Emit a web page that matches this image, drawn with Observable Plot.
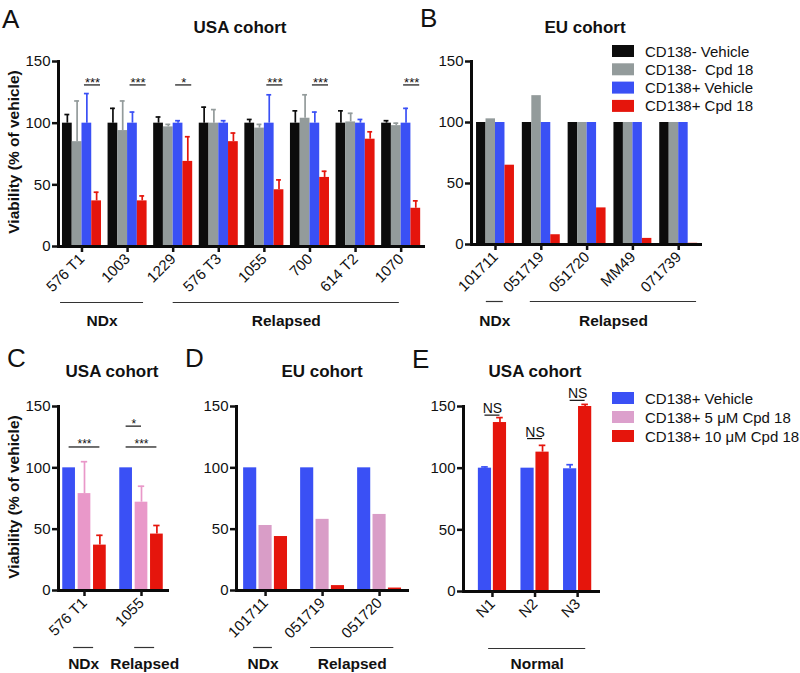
<!DOCTYPE html>
<html><head><meta charset="utf-8">
<script src="https://cdn.jsdelivr.net/npm/d3@7"></script>
<script src="https://cdn.jsdelivr.net/npm/@observablehq/plot@0.6"></script>
<style>
body{margin:0;background:#fff;}
#fig{position:relative;width:800px;height:673px;overflow:hidden;background:#fff;font-family:"Liberation Sans",Arial,Helvetica,sans-serif;}
#fig > svg, #fig > figure{position:absolute;margin:0;}
</style></head><body><div id="fig"></div>
<script>
// ---------- Panel A (USA cohort) ----------
const groupsA = ["576 T1","1003","1229","576 T3","1055","700","614 T2","1070"];
const seriesA = ["CD138- Vehicle","CD138-  Cpd 18","CD138+ Vehicle","CD138+ Cpd 18"];
const aNegVeh    = [100,100,100,100,100,100,100,100];
const aNegVehErr = [7,12,5,13,3,10,10,2];
const aNegCpd    = [85,94,97,100,96,104,101,98];
const aNegCpdErr = [33,24,2,11,3,19,7,2];
const aPosVeh    = [100,100,100,100,100,100,100,100];
const aPosVehErr = [24,9,2,2,23,9,3,12];
const aPosCpd    = [37,37,69,85,46,56,87,31];
const aPosCpdErr = [7,4,20,7,8,5,6,6];
const sigGroupsA = [0,1,2,4,5,7];
const sigLabelsA = ["***","***","*","***","***","***"];
const sigLevelA  = 131;
const bracketLabelsA = ["NDx","Relapsed"];
const bracketStartA  = [-0.47, 2.0];
const bracketEndA    = [1.35, 6.96];

// ---------- Panel B (EU cohort) ----------
const groupsB = ["101711","051719","051720","MM49","071739"];
const bNegVeh = [100,100,100,100,100];
const bNegCpd = [103,122,100,100,100];
const bPosVeh = [100,100,100,100,100];
const bPosCpd = [65,8,30,5,1];
const bracketLabelsB = ["NDx","Relapsed"];
const bracketStartB  = [-0.2, 0.76];
const bracketEndB    = [0.17, 4.39];

// ---------- Panel C (USA cohort, dose) ----------
const groupsC = ["576 T1","1055"];
const seriesDose = ["CD138+ Vehicle","CD138+ 5 \u03bcM Cpd 18","CD138+ 10 \u03bcM Cpd 18"];
const cVeh      = [100,100];
const cCpd5     = [79,72];
const cCpd5Err  = [26,13];
const cCpd10    = [37,46];
const cCpd10Err = [8,7];
const sigGroupsC = [0,1,1];
const sigLabelsC = ["***","*","***"];
const sigToC     = [2,1,2];
const sigLevelsC = [117,134,117];
const bracketLabelsC = ["NDx","Relapsed"];
const bracketStartC  = [-0.19, 0.88];
const bracketEndC    = [0.16, 1.23];

// ---------- Panel D (EU cohort, dose) ----------
const groupsD = ["101711","051719","051720"];
const dVeh  = [100,100,100];
const dCpd5 = [53,58,62];
const dCpd10 = [44,4,2];
const bracketLabelsD = ["NDx","Relapsed"];
const bracketStartD  = [-0.21, 0.79];
const bracketEndD    = [0.12, 2.25];

// ---------- Panel E (USA cohort, normal) ----------
const groupsE = ["N1","N2","N3"];
const seriesE = ["CD138+ Vehicle","CD138+ 10 \u03bcM Cpd 18"];
const eVeh      = [100,100,99.5];
const eVehErr   = [1,0,3.3];
const eCpd10    = [137,113,150];
const eCpd10Err = [4,5.5,1.7];
const sigLevelsE = [143,124,155];
const bracketLabelsE = ["Normal"];
const bracketStartE  = [-0.09];
const bracketEndE    = [2.19];

const BLACK = "#0c0c0c", GRAY = "#939b9b", BLUE = "#3a50f5", RED = "#e5150c";
const PINK_C = "#e998c9", PINK_D = "#d99dc7", PINK_L = "#dca0cc";
const FONT = "'Liberation Sans', Arial, Helvetica, sans-serif";

function makePanel(cfg) {
  const rows = [];
  cfg.series.forEach((s, si) => cfg.groups.forEach((g, gi) => {
    const v = cfg.values[si][gi];
    const e = cfg.errors && cfg.errors[si] ? cfg.errors[si][gi] : 0;
    rows.push({series: s, group: g, gi, xc: gi + cfg.offsets[si], value: v, err: e || 0});
  }));
  const hw = cfg.barW / 2;
  const errRows = rows.filter(d => d.err > 0);
  const brackets = cfg.bracketLabels.map((label, i) => ({label, start: cfg.bracketStart[i], end: cfg.bracketEnd[i]}));
  const marks = [
    Plot.rect(rows, {x1: d => d.xc - hw, x2: d => d.xc + hw, y1: 0, y2: "value", fill: "series"}),
    Plot.ruleX(errRows, {x: "xc", y1: "value", y2: d => d.value + d.err, stroke: "series", strokeWidth: 1.7}),
    Plot.ruleY(errRows, {y: d => d.value + d.err, x1: d => d.xc - hw / 2, x2: d => d.xc + hw / 2, stroke: "series", strokeWidth: 1.7}),
    Plot.frame({anchor: "left", stroke: "#0a0a0a", strokeWidth: 3}),
    Plot.frame({anchor: "bottom", stroke: "#0a0a0a", strokeWidth: 3}),
    Plot.axisY({ticks: [0, 50, 100, 150], tickSize: 6, tickPadding: 2, fontSize: 15, strokeWidth: 2.5, label: null}),
    Plot.axisX({ticks: cfg.groups.map((_, i) => i), tickFormat: i => cfg.groups[i], tickRotate: -45,
                tickSize: 6, tickPadding: 4, fontSize: 15, strokeWidth: 2.5, label: null}),
    Plot.ruleY(brackets, {x1: "start", x2: "end", y: 0, dy: cfg.lineDy, stroke: "#333", strokeWidth: 1.2}),
    Plot.text(brackets, {x: d => (d.start + d.end) / 2, y: 0, dy: cfg.textDy, text: "label", lineAnchor: "bottom",
                         fontWeight: "bold", fontSize: 15.5, fill: "#111"})
  ];
  if (cfg.sig) {
    const sg = cfg.sig;
    const e0 = cfg.sigExt ? cfg.sigExt[0] : 0, e1 = cfg.sigExt ? cfg.sigExt[1] : 0;
    marks.push(Plot.ruleY(sg, {y: "y", x1: d => d.g + cfg.offsets[d.from] - e0,
                               x2: d => d.g + cfg.offsets[d.to] + e1,
                               stroke: "#111", strokeWidth: 1.2}));
    marks.push(Plot.text(sg, {x: d => d.g + (cfg.offsets[d.from] - e0 + cfg.offsets[d.to] + e1) / 2,
                              y: "y", text: "label", lineAnchor: "bottom", dy: cfg.sigDy, fontSize: cfg.sigFont, fill: "#111"}));
  }
  const svg = Plot.plot({
    width: cfg.width, height: cfg.height,
    marginLeft: cfg.mLeft, marginRight: cfg.mRight, marginTop: cfg.mTop, marginBottom: cfg.mBottom,
    x: {type: "linear", domain: cfg.domainX},
    y: {domain: [0, 150]},
    color: {domain: cfg.series, range: cfg.colors},
    style: {fontFamily: FONT, fontSize: "15px", color: "#111", background: "none", overflow: "visible"},
    marks
  });
  svg.style.left = cfg.left + "px";
  svg.style.top = cfg.top + "px";
  svg.style.maxWidth = "none";
  document.getElementById("fig").appendChild(svg);
}

const wA = 0.214;
makePanel({
  groups: groupsA, series: seriesA, colors: [BLACK, GRAY, BLUE, RED],
  values: [aNegVeh, aNegCpd, aPosVeh, aPosCpd], errors: [aNegVehErr, aNegCpdErr, aPosVehErr, aPosCpdErr],
  barW: wA, offsets: [-1.5 * wA, -0.5 * wA, 0.5 * wA, 1.5 * wA],
  domainX: [-0.515, 7.49], left: 0, top: 0, width: 430, height: 340,
  mLeft: 58, mRight: 7, mTop: 61, mBottom: 94, lineDy: 56, textDy: 79,
  bracketLabels: bracketLabelsA, bracketStart: bracketStartA, bracketEnd: bracketEndA,
  sig: sigGroupsA.map((g, i) => ({g, label: sigLabelsA[i], y: sigLevelA, from: 2, to: 3})),
  sigExt: [0.053, 0.086], sigDy: 2, sigFont: 13
});

const wB = 0.207;
makePanel({
  groups: groupsB, series: seriesA, colors: [BLACK, GRAY, BLUE, RED],
  values: [bNegVeh, bNegCpd, bPosVeh, bPosCpd],
  barW: wB, offsets: [-1.5 * wB, -0.5 * wB, 0.5 * wB, 1.5 * wB],
  domainX: [-0.524, 4.476], left: 413, top: 0, width: 300, height: 340,
  mLeft: 58, mRight: 13, mTop: 61, mBottom: 96, lineDy: 57, textDy: 81,
  bracketLabels: bracketLabelsB, bracketStart: bracketStartB, bracketEnd: bracketEndB
});

makePanel({
  groups: groupsC, series: seriesDose, colors: [BLUE, PINK_C, RED],
  values: [cVeh, cCpd5, cCpd10], errors: [null, cCpd5Err, cCpd10Err],
  barW: 0.223, offsets: [-0.27, 0, 0.27],
  domainX: [-0.456, 1.456], left: 0, top: 330, width: 175, height: 343,
  mLeft: 58, mRight: 8, mTop: 76, mBottom: 83, lineDy: 57, textDy: 78,
  bracketLabels: bracketLabelsC, bracketStart: bracketStartC, bracketEnd: bracketEndC,
  sig: sigGroupsC.map((g, i) => ({g, label: sigLabelsC[i], y: sigLevelsC[i], from: 0, to: sigToC[i]})),
  sigDy: 1.5, sigFont: 12
});

makePanel({
  groups: groupsD, series: seriesDose, colors: [BLUE, PINK_D, RED],
  values: [dVeh, dCpd5, dCpd10],
  barW: 0.23, offsets: [-0.27, 0, 0.27],
  domainX: [-0.51, 2.49], left: 178, top: 330, width: 237, height: 343,
  mLeft: 58, mRight: 8, mTop: 76, mBottom: 83, lineDy: 57, textDy: 78,
  bracketLabels: bracketLabelsD, bracketStart: bracketStartD, bracketEnd: bracketEndD
});

makePanel({
  groups: groupsE, series: seriesE, colors: [BLUE, RED],
  values: [eVeh, eCpd10], errors: [eVehErr, eCpd10Err],
  barW: 0.31, offsets: [-0.176, 0.176],
  domainX: [-0.68, 2.49], left: 405, top: 330, width: 201, height: 343,
  mLeft: 58, mRight: 8, mTop: 76, mBottom: 82, lineDy: 57, textDy: 77,
  bracketLabels: bracketLabelsE, bracketStart: bracketStartE, bracketEnd: bracketEndE,
  sig: groupsE.map((g, i) => ({g: i, label: "NS", y: sigLevelsE[i], from: 0, to: 1})),
  sigDy: -2, sigFont: 14
});

// ---------- overlay: panel letters, titles, axis titles, legends ----------
const ov = d3.select("#fig").append("svg")
  .attr("width", 800).attr("height", 673)
  .style("left", "0px").style("top", "0px").style("position", "absolute")
  .style("font-family", FONT).style("pointer-events", "none");

const letters = [["A", 2, 28], ["B", 420, 27], ["C", 7, 367], ["D", 185, 367], ["E", 412, 368]];
letters.forEach(([t, x, y]) => ov.append("text").attr("x", x).attr("y", y)
  .attr("font-size", 26).attr("fill", "#111").text(t));

const titles = [["USA cohort", 240, 33], ["EU cohort", 585, 33], ["USA cohort", 112, 377], ["EU cohort", 322, 377], ["USA cohort", 535, 377]];
titles.forEach(([t, x, y]) => ov.append("text").attr("x", x).attr("y", y)
  .attr("text-anchor", "middle").attr("font-weight", "bold").attr("font-size", 17).attr("fill", "#111").text(t));

const yTitle = "Viability (% of vehicle)";
[[19, 152], [19, 497]].forEach(([x, y]) => ov.append("text")
  .attr("transform", `translate(${x},${y}) rotate(-90)`)
  .attr("text-anchor", "middle").attr("font-weight", "bold").attr("font-size", 15.5).attr("fill", "#111").text(yTitle));

function legend(labels, colors, x, y0, step) {
  labels.forEach((t, i) => {
    const cy = y0 + i * step;
    ov.append("rect").attr("x", x).attr("y", cy - 6).attr("width", 22).attr("height", 12).attr("fill", colors[i]);
    ov.append("text").attr("x", x + 33).attr("y", cy + 5.5).attr("font-size", 15).attr("fill", "#111")
      .style("white-space", "pre").attr("xml:space", "preserve").text(t);
  });
}
legend(seriesA, [BLACK, GRAY, BLUE, RED], 612, 51, 18.3);
legend(seriesDose, [BLUE, PINK_L, RED], 612, 398, 19);
</script>
</body></html>
